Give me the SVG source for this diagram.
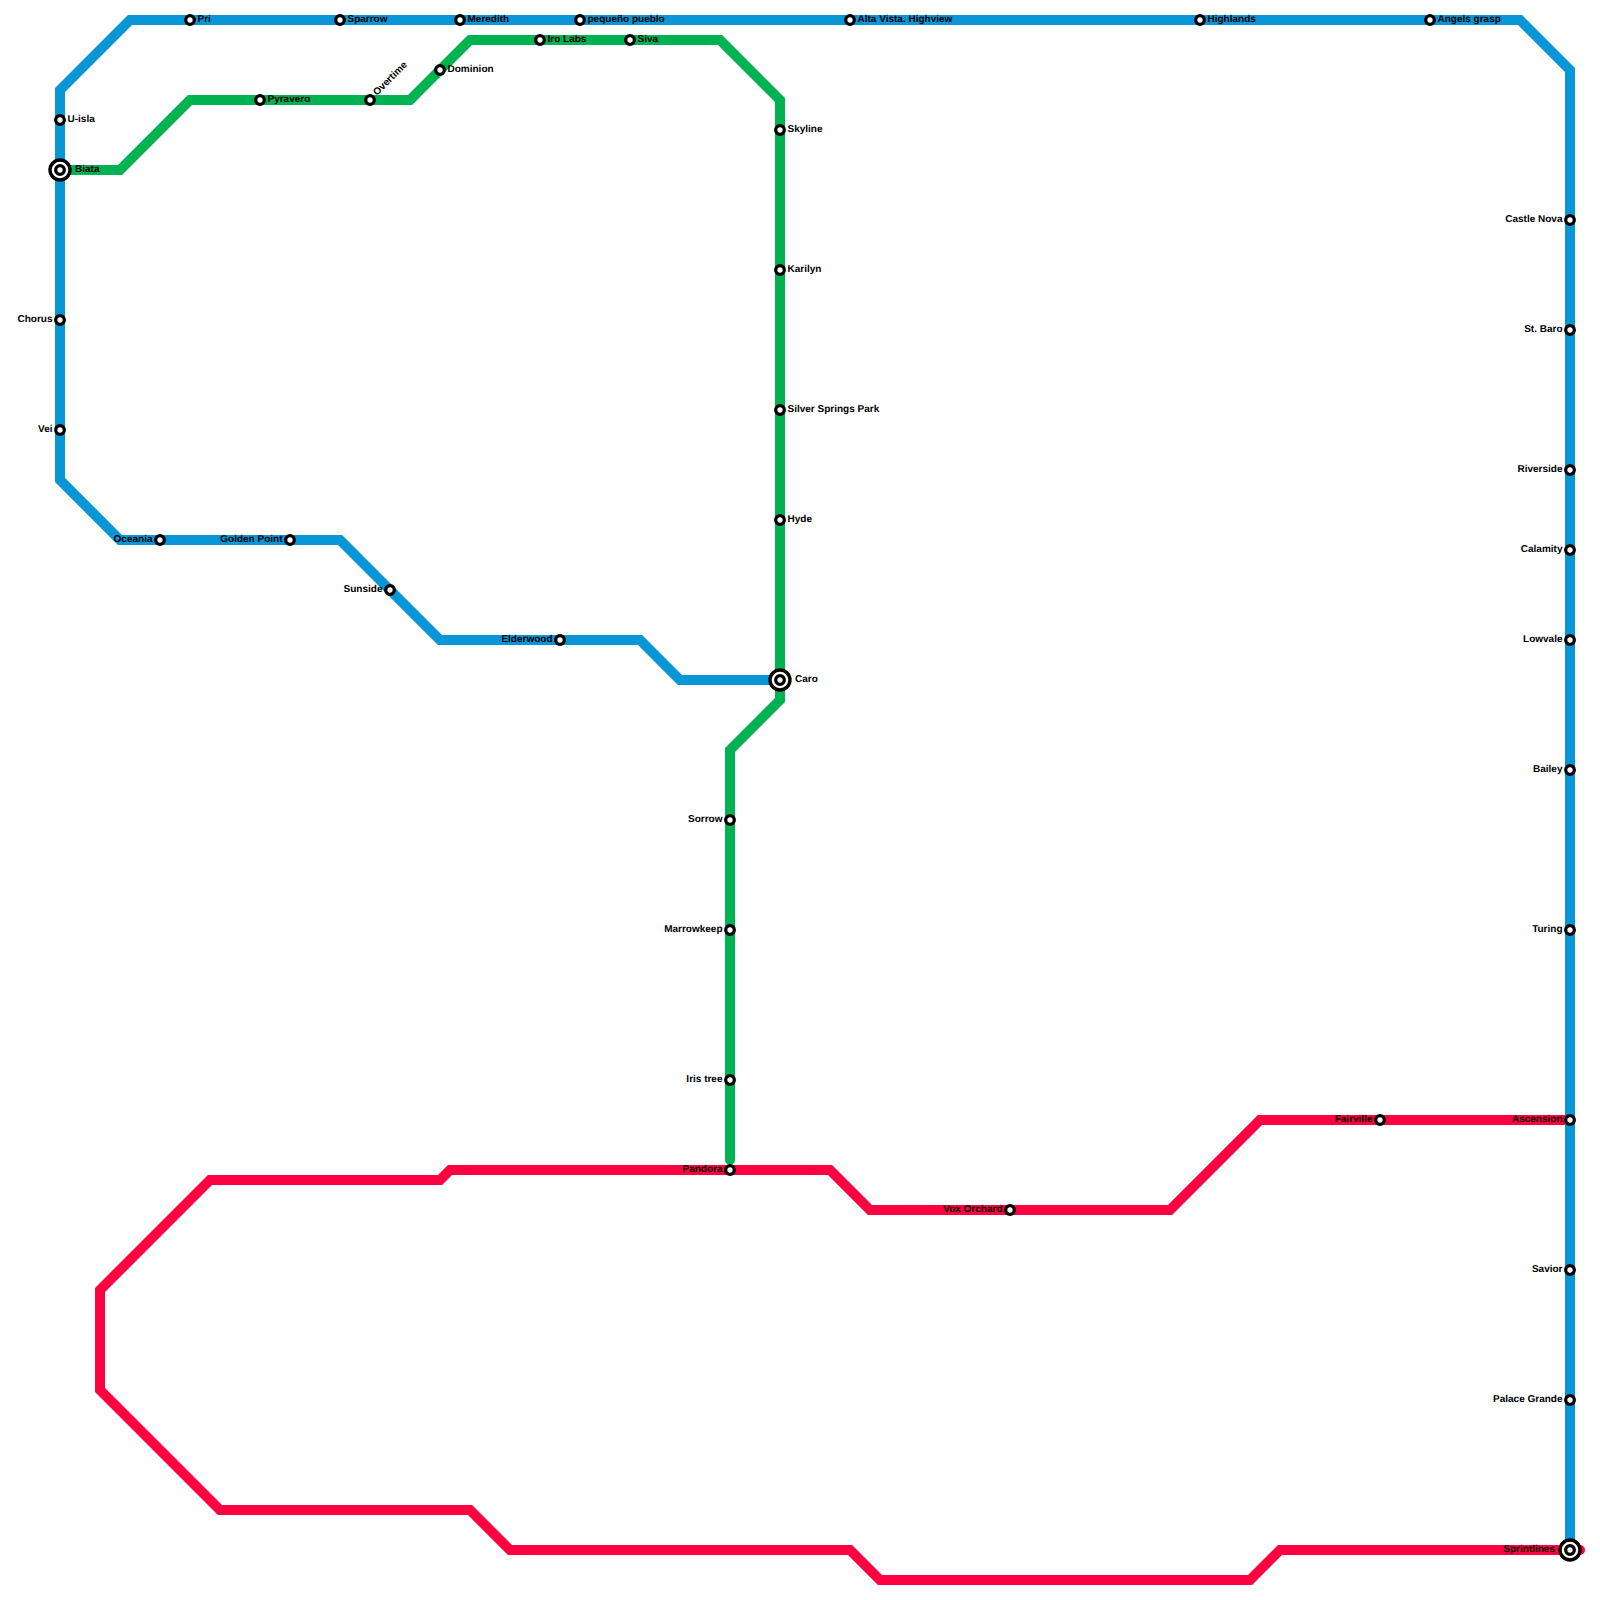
<svg xmlns="http://www.w3.org/2000/svg" width="1600" height="1600" viewBox="0 0 1600 1600">
<style>
.l{fill:none;stroke-width:10;stroke-linejoin:miter}
.s{fill:#fff;stroke:#000;stroke-width:3.3}
.o{fill:#fff;stroke:#000;stroke-width:3.4}
.t{font-family:"Liberation Sans",Arial,sans-serif;font-size:10px;font-weight:700;fill:#000;text-rendering:geometricPrecision}
.e{text-anchor:end}
</style>
<rect width="1600" height="1600" fill="#fff"/>
<g id="connectors">
<path class="l" stroke="#ff0040" stroke-linecap="round" d="M1580 1550H1280L1250 1580H880L850 1550H510L470 1510H220L100 1390V1290L210 1180H440L450 1170H830L870 1210H1170L1260 1120H1570"/>
<path class="l" stroke="#00b251" stroke-linecap="round" d="M60 170H120L190 100H410L470 40H720L780 100V700L730 750V1160"/>
<path class="l" stroke="#0896d7" d="M780 680H680L640 640H440L340 540H120L60 480V90L130 20H1520L1570 70V1550"/>
</g>
<g id="n-u-isla"><circle class="s" cx="60" cy="120" r="4.3"/><text class="t" x="67.5" y="122">U-isla</text></g>
<g id="n-biata"><circle class="o" cx="60" cy="170" r="10"/><circle class="s" cx="60" cy="170" r="4.3"/><text class="t" x="75" y="172">Biata</text></g>
<g id="n-pri"><circle class="s" cx="190" cy="20" r="4.3"/><text class="t" x="197.5" y="22">Pri</text></g>
<g id="n-sparrow"><circle class="s" cx="340" cy="20" r="4.3"/><text class="t" x="347.5" y="22">Sparrow</text></g>
<g id="n-meredith"><circle class="s" cx="460" cy="20" r="4.3"/><text class="t" x="467.5" y="22">Meredith</text></g>
<g id="n-pequeno"><circle class="s" cx="580" cy="20" r="4.3"/><text class="t" x="587.5" y="22">pequeño pueblo</text></g>
<g id="n-alta"><circle class="s" cx="850" cy="20" r="4.3"/><text class="t" x="857.5" y="22">Alta Vista. Highview</text></g>
<g id="n-highlands"><circle class="s" cx="1200" cy="20" r="4.3"/><text class="t" x="1207.5" y="22">Highlands</text></g>
<g id="n-angels"><circle class="s" cx="1430" cy="20" r="4.3"/><text class="t" x="1437.5" y="22">Angels grasp</text></g>
<g id="n-pyravero"><circle class="s" cx="260" cy="100" r="4.3"/><text class="t" x="267.5" y="102">Pyravero</text></g>
<g id="n-overtime"><circle class="s" cx="370" cy="100" r="4.3"/><text class="t" transform="translate(377 96) rotate(-45)">Overtime</text></g>
<g id="n-dominion"><circle class="s" cx="440" cy="70" r="4.3"/><text class="t" x="447.5" y="72">Dominion</text></g>
<g id="n-iro"><circle class="s" cx="540" cy="40" r="4.3"/><text class="t" x="547.5" y="42">Iro Labs</text></g>
<g id="n-siva"><circle class="s" cx="630" cy="40" r="4.3"/><text class="t" x="637.5" y="42">Siva</text></g>
<g id="n-skyline"><circle class="s" cx="780" cy="130" r="4.3"/><text class="t" x="787.5" y="132">Skyline</text></g>
<g id="n-karilyn"><circle class="s" cx="780" cy="270" r="4.3"/><text class="t" x="787.5" y="272">Karilyn</text></g>
<g id="n-silver"><circle class="s" cx="780" cy="410" r="4.3"/><text class="t" x="787.5" y="412">Silver Springs Park</text></g>
<g id="n-hyde"><circle class="s" cx="780" cy="520" r="4.3"/><text class="t" x="787.5" y="522">Hyde</text></g>
<g id="n-caro"><circle class="o" cx="780" cy="680" r="10"/><circle class="s" cx="780" cy="680" r="4.3"/><text class="t" x="795" y="682">Caro</text></g>
<g id="n-chorus"><circle class="s" cx="60" cy="320" r="4.3"/><text class="t e" x="52.5" y="322">Chorus</text></g>
<g id="n-vei"><circle class="s" cx="60" cy="430" r="4.3"/><text class="t e" x="52.5" y="432">Vei</text></g>
<g id="n-oceania"><circle class="s" cx="160" cy="540" r="4.3"/><text class="t e" x="152.5" y="542">Oceania</text></g>
<g id="n-golden"><circle class="s" cx="290" cy="540" r="4.3"/><text class="t e" x="282.5" y="542">Golden Point</text></g>
<g id="n-sunside"><circle class="s" cx="390" cy="590" r="4.3"/><text class="t e" x="382.5" y="592">Sunside</text></g>
<g id="n-elderwood"><circle class="s" cx="560" cy="640" r="4.3"/><text class="t e" x="552.5" y="642">Elderwood</text></g>
<g id="n-sorrow"><circle class="s" cx="730" cy="820" r="4.3"/><text class="t e" x="722.5" y="822">Sorrow</text></g>
<g id="n-marrowkeep"><circle class="s" cx="730" cy="930" r="4.3"/><text class="t e" x="722.5" y="932">Marrowkeep</text></g>
<g id="n-iris"><circle class="s" cx="730" cy="1080" r="4.3"/><text class="t e" x="722.5" y="1082">Iris tree</text></g>
<g id="n-pandora"><circle class="s" cx="730" cy="1170" r="4.3"/><text class="t e" x="722.5" y="1172">Pandora</text></g>
<g id="n-vox"><circle class="s" cx="1010" cy="1210" r="4.3"/><text class="t e" x="1002.5" y="1212">Vox Orchard</text></g>
<g id="n-fairville"><circle class="s" cx="1380" cy="1120" r="4.3"/><text class="t e" x="1372.5" y="1122">Fairville</text></g>
<g id="n-castle"><circle class="s" cx="1570" cy="220" r="4.3"/><text class="t e" x="1562.5" y="222">Castle Nova</text></g>
<g id="n-baro"><circle class="s" cx="1570" cy="330" r="4.3"/><text class="t e" x="1562.5" y="332">St. Baro</text></g>
<g id="n-riverside"><circle class="s" cx="1570" cy="470" r="4.3"/><text class="t e" x="1562.5" y="472">Riverside</text></g>
<g id="n-calamity"><circle class="s" cx="1570" cy="550" r="4.3"/><text class="t e" x="1562.5" y="552">Calamity</text></g>
<g id="n-lowvale"><circle class="s" cx="1570" cy="640" r="4.3"/><text class="t e" x="1562.5" y="642">Lowvale</text></g>
<g id="n-bailey"><circle class="s" cx="1570" cy="770" r="4.3"/><text class="t e" x="1562.5" y="772">Bailey</text></g>
<g id="n-turing"><circle class="s" cx="1570" cy="930" r="4.3"/><text class="t e" x="1562.5" y="932">Turing</text></g>
<g id="n-ascension"><circle class="s" cx="1570" cy="1120" r="4.3"/><text class="t e" x="1562.5" y="1122">Ascension</text></g>
<g id="n-savior"><circle class="s" cx="1570" cy="1270" r="4.3"/><text class="t e" x="1562.5" y="1272">Savior</text></g>
<g id="n-palace"><circle class="s" cx="1570" cy="1400" r="4.3"/><text class="t e" x="1562.5" y="1402">Palace Grande</text></g>
<g id="n-sprintlines"><circle class="o" cx="1570" cy="1550" r="10"/><circle class="s" cx="1570" cy="1550" r="4.3"/><text class="t e" x="1555" y="1552">Sprintlines</text></g>
</svg>
